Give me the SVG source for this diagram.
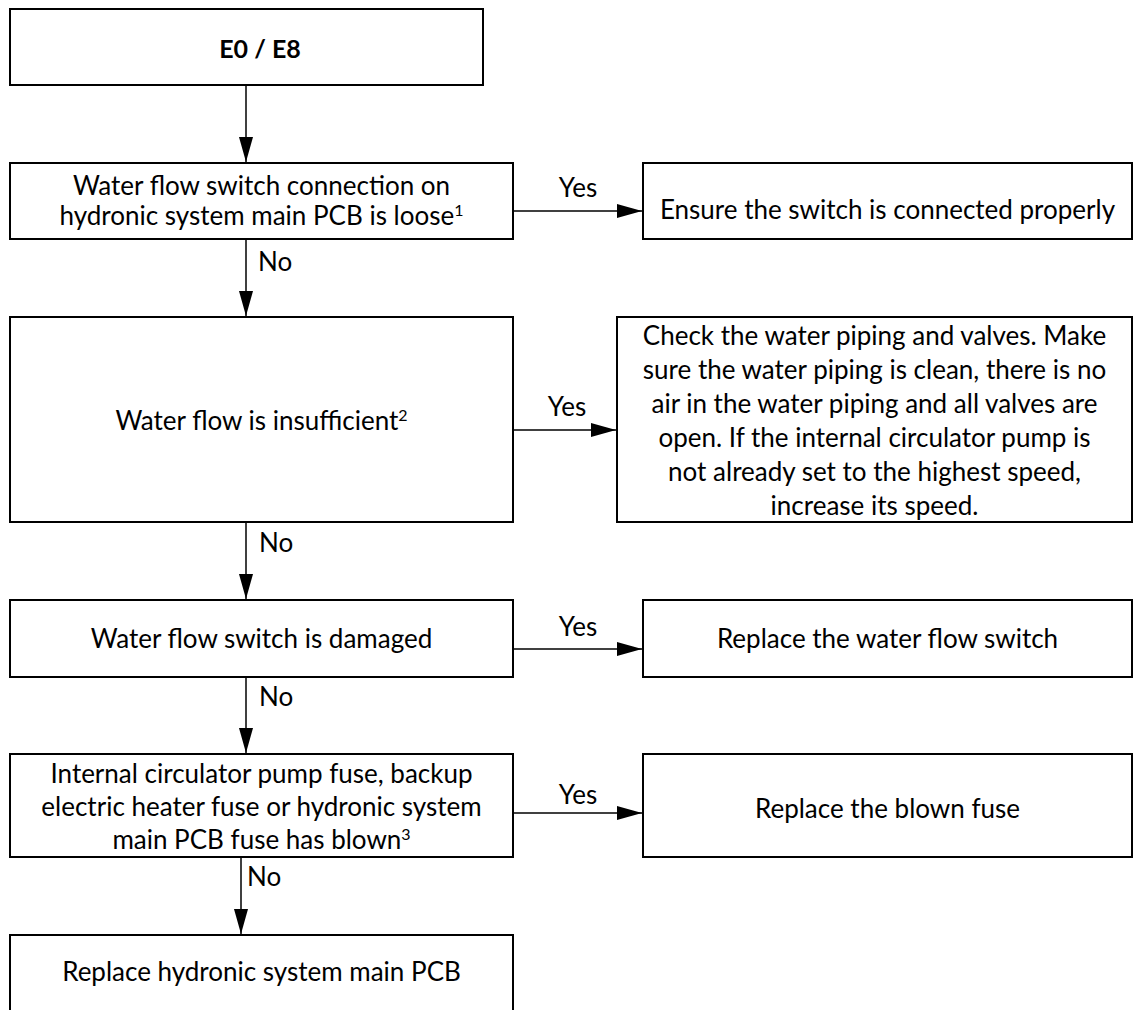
<svg xmlns="http://www.w3.org/2000/svg" width="1142" height="1010" viewBox="0 0 1142 1010">
<style>
.box{fill:#fff;stroke:#000;stroke-width:2}
.t{font-family:Lato,"Liberation Sans",sans-serif;font-size:26px;fill:#000;text-anchor:middle}
.b{font-weight:bold;font-size:25px}
.lbl{font-family:Lato,"Liberation Sans",sans-serif;font-size:26px;fill:#000}
.c{stroke:#000;stroke-width:1.5;fill:none;marker-end:url(#ah)}
</style>
<defs>
<marker id="ah" viewBox="0 0 25 14" refX="25" refY="7" markerWidth="25" markerHeight="14" markerUnits="userSpaceOnUse" orient="auto"><path d="M0,0 L25,7 L0,14 z" fill="#000"/></marker>
</defs>
<rect width="1142" height="1010" fill="#fff"/>
<g id="n1"><rect class="box" x="10" y="9" width="473" height="76"/><text class="t b" x="260" y="58">E0 / E8</text></g>
<g id="n2"><rect class="box" x="10" y="163" width="503" height="76"/><text class="t" x="261.5" y="195">Water flow switch connection on</text><text class="t" x="261.5" y="225">hydronic system main PCB is loose<tspan font-size="16" dy="-9">1</tspan></text></g>
<g id="n2y"><rect class="box" x="643" y="163" width="489" height="76"/><text class="t" x="887.5" y="219">Ensure the switch is connected properly</text></g>
<g id="n3"><rect class="box" x="10" y="317" width="503" height="205"/><text class="t" x="261.5" y="430">Water flow is insufficient<tspan font-size="16" dy="-9">2</tspan></text></g>
<g id="n3y"><rect class="box" x="617" y="317" width="515" height="205"/>
<text class="t" x="874.5" y="345">Check the water piping and valves. Make</text>
<text class="t" x="874.5" y="379">sure the water piping is clean, there is no</text>
<text class="t" x="874.5" y="413">air in the water piping and all valves are</text>
<text class="t" x="874.5" y="447">open. If the internal circulator pump is</text>
<text class="t" x="874.5" y="481">not already set to the highest speed,</text>
<text class="t" x="874.5" y="515">increase its speed.</text></g>
<g id="n4"><rect class="box" x="10" y="600" width="503" height="77"/><text class="t" x="261.5" y="648">Water flow switch is damaged</text></g>
<g id="n4y"><rect class="box" x="643" y="600" width="489" height="77"/><text class="t" x="887.5" y="648">Replace the water flow switch</text></g>
<g id="n5"><rect class="box" x="10" y="754" width="503" height="103"/>
<text class="t" x="261.5" y="783">Internal circulator pump fuse, backup</text>
<text class="t" x="261.5" y="816">electric heater fuse or hydronic system</text>
<text class="t" x="261.5" y="849">main PCB fuse has blown<tspan font-size="16" dy="-9">3</tspan></text></g>
<g id="n5y"><rect class="box" x="643" y="754" width="489" height="103"/><text class="t" x="887.5" y="818">Replace the blown fuse</text></g>
<g id="n6"><rect class="box" x="10" y="935" width="503" height="85"/><text class="t" x="261.5" y="981">Replace hydronic system main PCB</text></g>
<g id="connectors">
<line class="c" x1="246" y1="85" x2="246" y2="162"/>
<line class="c" x1="513" y1="211" x2="642" y2="211"/>
<text class="lbl" x="578" y="197" text-anchor="middle">Yes</text>
<line class="c" x1="246" y1="239" x2="246" y2="316"/>
<text class="lbl" x="258" y="271">No</text>
<line class="c" x1="513" y1="430" x2="616" y2="430"/>
<text class="lbl" x="567" y="416" text-anchor="middle">Yes</text>
<line class="c" x1="246" y1="522" x2="246" y2="599"/>
<text class="lbl" x="259" y="552">No</text>
<line class="c" x1="513" y1="649" x2="642" y2="649"/>
<text class="lbl" x="578" y="636" text-anchor="middle">Yes</text>
<line class="c" x1="246" y1="677" x2="246" y2="753"/>
<text class="lbl" x="259" y="706">No</text>
<line class="c" x1="513" y1="813" x2="642" y2="813"/>
<text class="lbl" x="578" y="804" text-anchor="middle">Yes</text>
<line class="c" x1="241" y1="857" x2="241" y2="934"/>
<text class="lbl" x="247" y="886">No</text>
</g>
</svg>
